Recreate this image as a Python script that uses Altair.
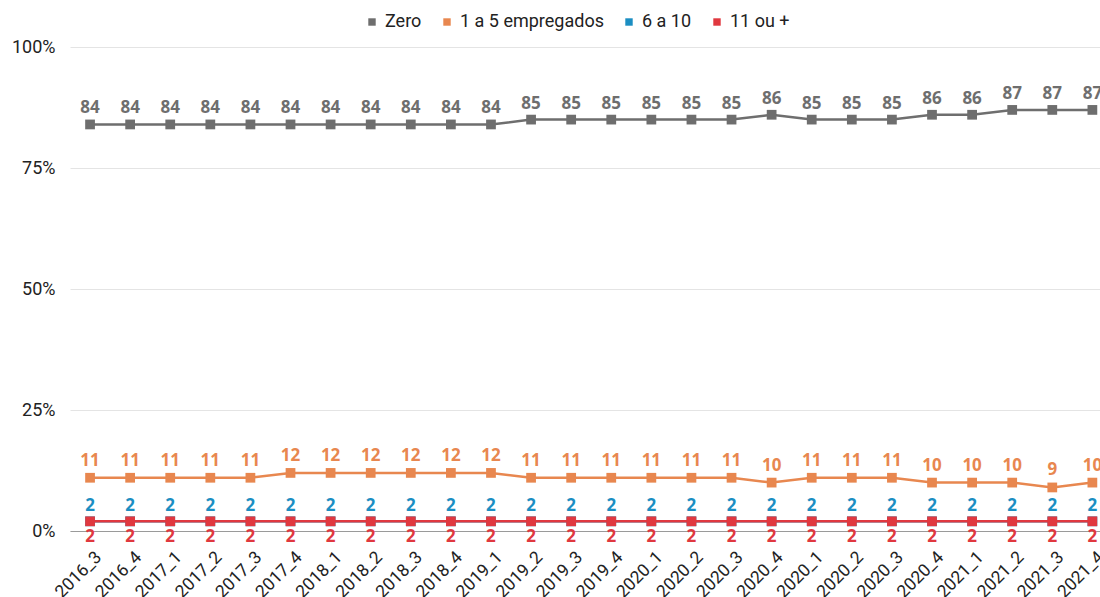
import altair as alt
import pandas as pd

# Quarterly periods (axis labels, in order of appearance)
periods = ["2016_3", "2016_4", "2017_1", "2017_2", "2017_3", "2017_4",
           "2018_1", "2018_2", "2018_3", "2018_4", "2019_1", "2019_2",
           "2019_3", "2019_4", "2020_1", "2020_2", "2020_3", "2020_4",
           "2020_1", "2020_2", "2020_3", "2020_4", "2021_1", "2021_2",
           "2021_3", "2021_4"]

# Share of firms (%) by number of employees
zero = [84, 84, 84, 84, 84, 84, 84, 84, 84, 84, 84, 85, 85, 85, 85, 85, 85,
        86, 85, 85, 85, 86, 86, 87, 87, 87]
um_a_cinco = [11, 11, 11, 11, 11, 12, 12, 12, 12, 12, 12, 11, 11, 11, 11, 11,
              11, 10, 11, 11, 11, 10, 10, 10, 9, 10]
seis_a_dez = [2, 2, 2, 2, 2, 2, 2, 2, 2, 2, 2, 2, 2, 2, 2, 2, 2, 2, 2, 2, 2,
              2, 2, 2, 2, 2]
onze_mais = [2, 2, 2, 2, 2, 2, 2, 2, 2, 2, 2, 2, 2, 2, 2, 2, 2, 2, 2, 2, 2,
             2, 2, 2, 2, 2]

series_names = ["Zero", "1 a 5 empregados", "6 a 10", "11 ou +"]
series_values = [zero, um_a_cinco, seis_a_dez, onze_mais]
series_colors = ["#6e6e6e", "#e8874f", "#1b8ec2", "#e0383f"]
label_dy = [-16, -17, -15, 16]

rows = []
for name, vals in zip(series_names, series_values):
    for i, v in enumerate(vals):
        rows.append({"idx": i, "periodo": periods[i], "serie": name, "valor": v})
df = pd.DataFrame(rows)

label_expr = "[" + ",".join("'%s'" % p for p in periods) + "][datum.value]"

x_enc = alt.X(
    "idx:Q",
    scale=alt.Scale(domain=[-0.5, 25.19], nice=False, zero=False),
    axis=alt.Axis(
        values=list(range(len(periods))), labelExpr=label_expr,
        labelAngle=-45, labelOverlap=False, labelBound=False,
        grid=False, ticks=False, domain=True, domainColor="#9a9a9a",
        domainWidth=1, labelFont="Roboto", labelFontSize=17.5,
        labelColor="#222222", labelPadding=17, labelOffset=2, title=None,
    ),
)
y_enc = alt.Y(
    "valor:Q",
    scale=alt.Scale(domain=[0, 100], nice=False),
    axis=alt.Axis(
        values=[0, 25, 50, 75, 100], labelExpr="datum.value + '%'",
        grid=True, gridColor="#e4e4e4", gridWidth=1, domain=False,
        ticks=False, labelFont="Roboto", labelFontSize=18,
        labelColor="#222222", labelPadding=15, title=None,
    ),
)
color_enc = alt.Color(
    "serie:N",
    scale=alt.Scale(domain=series_names, range=series_colors),
    legend=alt.Legend(
        orient="none", legendX=293, legendY=-34, direction="horizontal",
        title=None, symbolType="square", symbolSize=55, symbolStrokeWidth=0,
        labelFont="Roboto", labelFontSize=18, labelColor="#222222",
        columnPadding=16, symbolOffset=0, labelOffset=4,
    ),
)

base = alt.Chart(df)
layers = []
for name, color, dy in zip(series_names, series_colors, label_dy):
    sub = base.transform_filter(alt.datum.serie == name)
    layers.append(sub.mark_line(strokeWidth=2.5, clip=False).encode(
        x=x_enc, y=y_enc, color=color_enc))
    layers.append(sub.mark_point(shape="square", filled=True, size=95,
                                 opacity=1, clip=False).encode(
        x=x_enc, y=y_enc, color=color_enc))
for name, color, dy in zip(series_names, series_colors, label_dy):
    sub = base.transform_filter(alt.datum.serie == name)
    layers.append(sub.mark_text(dy=dy, font="Open Sans", fontWeight="bold",
                                fontSize=17, color=color, baseline="middle",
                                clip=False).encode(
        x=x_enc, y=y_enc, text="valor:Q"))

chart = alt.layer(*layers).properties(
    width=1030, height=484,
    autosize=alt.AutoSizeParams(type="none"),
    padding={"left": 70, "top": 47, "right": 0, "bottom": 66},
    background="white",
).configure_view(stroke=None)

chart.save("out.html", embed_options={"renderer": "svg", "actions": False})
